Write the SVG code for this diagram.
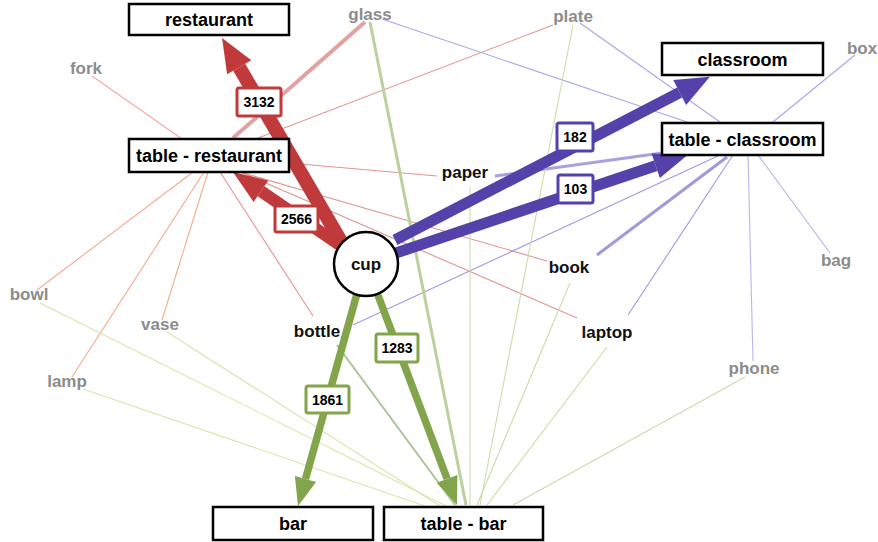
<svg xmlns="http://www.w3.org/2000/svg" width="878" height="542" viewBox="0 0 878 542">
<style>
.t{font-family:"Liberation Sans",Arial,Helvetica,sans-serif;font-weight:bold;text-anchor:middle}
.bx{fill:#fff;stroke:#000;stroke-width:2.5}
.bt{font-size:18px;fill:#000}
.gl{font-size:17px;fill:#8c8c8c}
.bl{font-size:17px;fill:#111}
.et{font-size:14px;fill:#000}
.er{fill:#fff;stroke-width:3}
.thin{fill:none;stroke-width:1.1}
.rt{stroke:#e39494}
.ot{stroke:#f2ab8c}
.pt{stroke:#a9a6ea}
.gt{stroke:#cadcaa}
.yt{stroke:#dce4a6}
.big{fill:none;stroke-linecap:butt}
</style>
<defs>
<marker id="hR" markerUnits="userSpaceOnUse" markerWidth="34" markerHeight="28" refX="0" refY="14" orient="auto" overflow="visible"><path d="M0,0 L34,14 L0,28 Z" fill="#c13a3b"/></marker>
<marker id="hR2" markerUnits="userSpaceOnUse" markerWidth="34" markerHeight="26" refX="0" refY="13" orient="auto" overflow="visible"><path d="M0,0 L34,13 L0,26 Z" fill="#c13a3b"/></marker>
<marker id="hP" markerUnits="userSpaceOnUse" markerWidth="34" markerHeight="28" refX="0" refY="14" orient="auto" overflow="visible"><path d="M0,0 L34,14 L0,28 Z" fill="#5441aa"/></marker>
<marker id="hP2" markerUnits="userSpaceOnUse" markerWidth="34" markerHeight="26" refX="0" refY="13" orient="auto" overflow="visible"><path d="M0,0 L34,13 L0,26 Z" fill="#5441aa"/></marker>
<marker id="hG" markerUnits="userSpaceOnUse" markerWidth="28" markerHeight="22" refX="0" refY="11" orient="auto" overflow="visible"><path d="M0,0 L28,11 L0,22 Z" fill="#82a54b"/></marker>
</defs>
<rect width="878" height="542" fill="#fff"/>
<g id="connectors">
<line x1="365" y1="22" x2="233" y2="138" style="stroke:#e3a2a2;stroke-width:4"/>
<line class="thin rt" x1="553" y1="25" x2="258" y2="138"/>
<line class="thin" style="stroke:#f6a8a8" x1="92" y1="76" x2="182" y2="139"/>
<line class="thin rt" x1="289" y1="163" x2="437" y2="176"/>
<line class="thin rt" x1="240" y1="172" x2="547" y2="261"/>
<line class="thin rt" x1="243" y1="173" x2="577" y2="318"/>
<line class="thin rt" x1="220" y1="172" x2="313" y2="316"/>
<line class="thin ot" x1="193" y1="172" x2="37" y2="290"/>
<line class="thin ot" x1="204" y1="172" x2="72" y2="377"/>
<line class="thin ot" x1="208" y1="172" x2="162" y2="320"/>
<line class="thin pt" x1="382" y1="19" x2="687" y2="122"/>
<line class="thin pt" x1="580" y1="23" x2="720" y2="122"/>
<line class="thin pt" x1="855" y1="55" x2="773" y2="122"/>
<line x1="495" y1="176" x2="662" y2="153" style="stroke:#aa9fdf;stroke-width:3"/>
<line class="thin" style="stroke:#9f99e5" x1="353" y1="325" x2="720" y2="155"/>
<line x1="597" y1="255" x2="727" y2="157" style="stroke:#a498dc;stroke-width:3"/>
<line class="thin" style="stroke:#9f99e5" x1="628" y1="315" x2="733" y2="155"/>
<line class="thin" style="stroke:#b6b6ef" x1="753" y1="361" x2="748" y2="155"/>
<line class="thin" style="stroke:#b0b0f0" x1="830" y1="253" x2="758" y2="155"/>
<line x1="370" y1="22" x2="466" y2="505" style="stroke:#bad19e;stroke-width:3"/>
<line class="thin gt" x1="573" y1="25" x2="480" y2="505"/>
<line class="thin gt" x1="470" y1="187" x2="470" y2="505"/>
<line class="thin gt" x1="570" y1="283" x2="477" y2="505"/>
<line class="thin gt" x1="607" y1="347" x2="487" y2="505"/>
<line class="thin gt" x1="745" y1="377" x2="513" y2="505"/>
<line x1="337" y1="345" x2="455" y2="505" style="stroke:#abc496;stroke-width:2"/>
<line class="thin yt" x1="40" y1="303" x2="446" y2="506"/>
<line class="thin yt" x1="167" y1="332" x2="440" y2="506"/>
<line class="thin yt" x1="83" y1="389" x2="425" y2="506"/>
<line class="big" x1="346" y1="250" x2="239.2" y2="67.3" style="stroke:#c13a3b;stroke-width:14" marker-end="url(#hR)"/>
<line class="big" x1="350" y1="252" x2="261" y2="191.2" style="stroke:#c13a3b;stroke-width:12" marker-end="url(#hR2)"/>
<line class="big" x1="395" y1="240" x2="679.7" y2="92.5" style="stroke:#5441aa;stroke-width:11" marker-end="url(#hP)"/>
<line class="big" x1="396" y1="253" x2="655.7" y2="165.7" style="stroke:#5441aa;stroke-width:11" marker-end="url(#hP2)"/>
<line class="big" x1="358" y1="290" x2="305.5" y2="479" style="stroke:#82a54b;stroke-width:7.5" marker-end="url(#hG)"/>
<line class="big" x1="376" y1="290" x2="447.1" y2="478.8" style="stroke:#82a54b;stroke-width:7.5" marker-end="url(#hG)"/>
<g id="lbl-3132"><rect class="er" x="237" y="88" width="44" height="28" rx="2" stroke="#c13a3b"/><text class="t et" x="259" y="107">3132</text></g>
<g id="lbl-2566"><rect class="er" x="275" y="206" width="43" height="26" rx="2" stroke="#c13a3b"/><text class="t et" x="296.5" y="224">2566</text></g>
<g id="lbl-182"><rect class="er" x="557" y="123" width="36" height="28" rx="2" stroke="#5441aa"/><text class="t et" x="575" y="142">182</text></g>
<g id="lbl-103"><rect class="er" x="558" y="175" width="35" height="28" rx="2" stroke="#5441aa"/><text class="t et" x="575.5" y="194">103</text></g>
<g id="lbl-1283"><rect class="er" x="376" y="334" width="42" height="28" rx="2" stroke="#82a54b"/><text class="t et" x="397" y="353">1283</text></g>
<g id="lbl-1861"><rect class="er" x="306" y="386" width="43" height="27" rx="2" stroke="#82a54b"/><text class="t et" x="327.5" y="405">1861</text></g>
</g>
<g id="node-restaurant"><rect class="bx" x="129" y="4" width="160" height="31"/><text class="t bt" x="209" y="26">restaurant</text></g>
<g id="node-table-restaurant"><rect class="bx" x="129" y="139" width="160" height="33"/><text class="t bt" x="209" y="162">table - restaurant</text></g>
<g id="node-classroom"><rect class="bx" x="662" y="43" width="161" height="32"/><text class="t bt" x="742.5" y="66">classroom</text></g>
<g id="node-table-classroom"><rect class="bx" x="662" y="123" width="161" height="32"/><text class="t bt" x="742.5" y="146">table - classroom</text></g>
<g id="node-bar"><rect class="bx" x="213" y="507" width="160" height="33"/><text class="t bt" x="293" y="530">bar</text></g>
<g id="node-table-bar"><rect class="bx" x="384" y="507" width="159" height="33"/><text class="t bt" x="463.5" y="530">table - bar</text></g>
<g id="node-cup"><circle cx="366" cy="264" r="32" fill="#fff" stroke="#000" stroke-width="2.5"/><text class="t bl" x="366" y="270">cup</text></g>
<g id="node-glass"><text class="t gl" x="370" y="20">glass</text></g>
<g id="node-plate"><text class="t gl" x="573" y="22">plate</text></g>
<g id="node-box"><text class="t gl" x="862" y="54">box</text></g>
<g id="node-fork"><text class="t gl" x="86" y="74">fork</text></g>
<g id="node-bowl"><text class="t gl" x="29" y="300">bowl</text></g>
<g id="node-vase"><text class="t gl" x="160" y="330">vase</text></g>
<g id="node-lamp"><text class="t gl" x="67" y="387">lamp</text></g>
<g id="node-bag"><text class="t gl" x="836" y="266">bag</text></g>
<g id="node-phone"><text class="t gl" x="754" y="374">phone</text></g>
<g id="node-paper"><text class="t bl" x="465" y="178">paper</text></g>
<g id="node-book"><text class="t bl" x="569" y="273">book</text></g>
<g id="node-bottle"><text class="t bl" x="317" y="337">bottle</text></g>
<g id="node-laptop"><text class="t bl" x="607" y="338">laptop</text></g>
</svg>
